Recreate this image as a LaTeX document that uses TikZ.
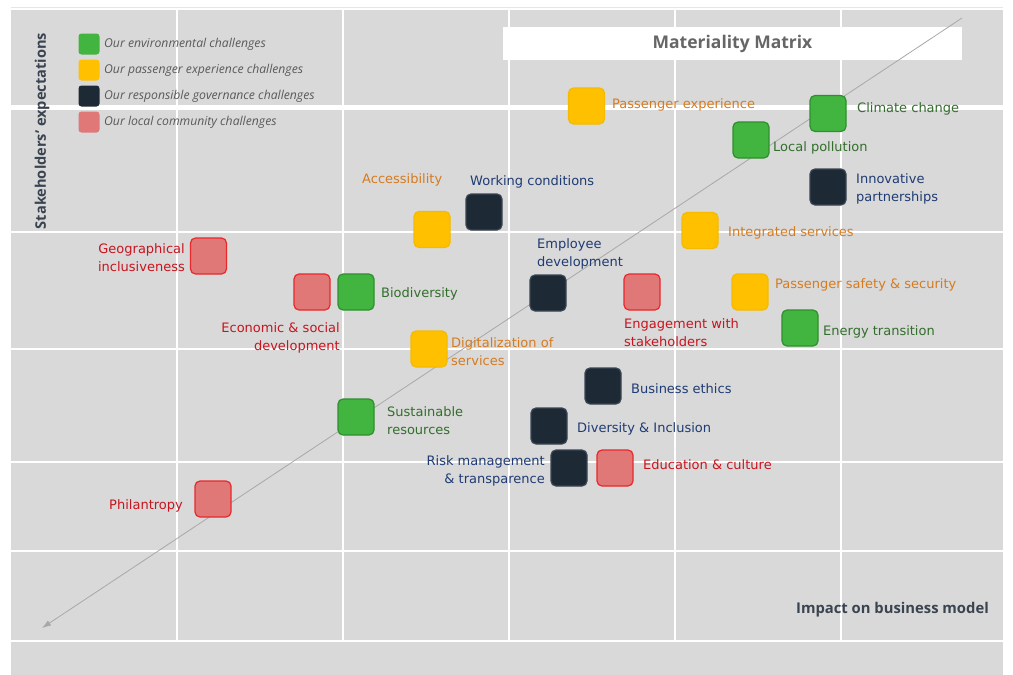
\documentclass[tikz,border=0pt]{standalone}
\usepackage{fontspec}
\setmainfont{PT Sans}
\newfontfamily\labfont{DejaVu Sans}
\newfontfamily\osans{Open Sans}
\usetikzlibrary{arrows.meta}
\definecolor{bg}{HTML}{D9D9D9}
\definecolor{envfill}{HTML}{42B540}
\definecolor{envdraw}{HTML}{2F8F2F}
\definecolor{paxfill}{HTML}{FFC000}
\definecolor{paxdraw}{HTML}{F5BA00}
\definecolor{govfill}{HTML}{1E2936}
\definecolor{govdraw}{HTML}{3B4654}
\definecolor{locfill}{HTML}{E07878}
\definecolor{locdraw}{HTML}{E8282A}
\definecolor{envtext}{HTML}{336E2C}
\definecolor{paxtext}{HTML}{D67B1E}
\definecolor{govtext}{HTML}{1F3B73}
\definecolor{loctext}{HTML}{C8141E}
\definecolor{legtext}{HTML}{5A5A5A}
\definecolor{axtext}{HTML}{3A4450}
\definecolor{diag}{HTML}{A8A8A8}
\begin{document}
\begin{tikzpicture}[x=1pt,y=-1pt,
  sq/.style={rounded corners=5pt, minimum size=36pt, inner sep=0pt, line width=1.2pt, draw},
  sqenv/.style={sq, fill=envfill, draw=envdraw},
  sqpax/.style={sq, fill=paxfill, draw=paxdraw},
  sqgov/.style={sq, fill=govfill, draw=govdraw},
  sqloc/.style={sq, fill=locfill, draw=locdraw},
  legsq/.style={rounded corners=3pt, minimum size=21pt, inner sep=0pt, draw=none},
  legtx/.style={anchor=west, inner sep=0pt, text=legtext, font=\osans\fontsize{12.2}{14}\selectfont\itshape},
  lab/.style={inner sep=0pt, yshift=-1.5pt, font=\labfont\fontsize{13}{18}\selectfont},
  labenv/.style={lab, text=envtext},
  labpax/.style={lab, text=paxtext},
  labgov/.style={lab, text=govtext},
  labloc/.style={lab, text=loctext},
  gridline/.style={draw=white, line width=2pt}
]
\useasboundingbox (0,0) rectangle (1013,675);
\fill[white] (0,0) rectangle (1013,675);
\draw[draw=black!10, line width=0.8pt] (11,7) -- (1003,7);
\fill[bg] (11,10) rectangle (1003,675);
% grid
\foreach \gx in {177,343,509,675,841} { \draw[gridline] (\gx,10) -- (\gx,641); }
\foreach \gy in {231.5,349,462,551,641} { \draw[gridline] (11,\gy) -- (1003,\gy); }
\draw[draw=white, line width=4.5pt] (11,107.5) -- (1003,107.5);
% title
\node[fill=white, minimum width=459pt, minimum height=33pt, inner sep=0pt] (titlebox) at (732.5,43.5) {};
\node[inner sep=0pt, text=black!60, font=\osans\fontsize{17.5}{20}\selectfont\bfseries] (title) at (titlebox) {Materiality Matrix};
% diagonal
\coordinate (dtop) at (962,18);
\coordinate (dbot) at (42,628);
\draw[draw=diag, line width=0.8pt, -{Latex[length=9pt,width=6pt]}] (dtop) -- (dbot);
% axis labels
\node[rotate=90, inner sep=0pt, text=axtext, font=\osans\fontsize{14.6}{17}\selectfont\bfseries] (ylab) at (42,131) {Stakeholders’ expectations};
\node[anchor=east, inner sep=0pt, text=axtext, font=\osans\fontsize{14.8}{17}\selectfont\bfseries] (xlab) at (989,610) {Impact on business model};
% legend
\node[legsq, fill=envfill] (l1) at (89,44) {};
\node[legsq, fill=paxfill] (l2) at (89,70) {};
\node[legsq, fill=govfill] (l3) at (89,96) {};
\node[legsq, fill=locfill] (l4) at (89,122) {};
\node[legtx] (lt1) at (104,44) {Our environmental challenges};
\node[legtx] (lt2) at (104,70) {Our passenger experience challenges};
\node[legtx] (lt3) at (104,96) {Our responsible governance challenges};
\node[legtx] (lt4) at (104,122) {Our local community challenges};
% squares
\node[sqpax] (pe) at (586.5,106) {};
\node[sqenv] (cc) at (828,113.5) {};
\node[sqenv] (lp) at (751,140) {};
\node[sqgov] (ip) at (828,187) {};
\node[sqpax] (is) at (700,230.5) {};
\node[sqpax] (pss) at (750,292) {};
\node[sqenv] (et) at (800,328) {};
\node[sqpax] (acc) at (432,229.5) {};
\node[sqgov] (wc) at (484,212) {};
\node[sqloc] (gi) at (208.5,256) {};
\node[sqloc] (esd) at (312,292) {};
\node[sqenv] (bio) at (356,292) {};
\node[sqgov] (ed) at (548,293) {};
\node[sqloc] (ews) at (642,292) {};
\node[sqpax] (dos) at (429,349) {};
\node[sqgov] (be) at (603,386) {};
\node[sqgov] (di) at (549,426) {};
\node[sqgov] (rmt) at (569,468) {};
\node[sqloc] (ec) at (615,468) {};
\node[sqenv] (sr) at (356,417) {};
\node[sqloc] (ph) at (213,499) {};
% labels
\node[labpax, anchor=west] (tpe) at (612,103) {Passenger experience};
\node[labenv, anchor=west] (tcc) at (857,107) {Climate change};
\node[labenv, anchor=west] (tlp) at (773,146) {Local pollution};
\node[labgov, anchor=west, align=left] (tip) at (856,187) {Innovative\\partnerships};
\node[labpax, anchor=west] (tis) at (728,231) {Integrated services};
\node[labpax, anchor=west] (tpss) at (775,283) {Passenger safety \& security};
\node[labenv, anchor=west] (tet) at (823,330) {Energy transition};
\node[labpax, anchor=west] (tacc) at (362,178) {Accessibility};
\node[labgov, anchor=west] (twc) at (470,180) {Working conditions};
\node[labloc, anchor=east, align=right] (tgi) at (185,256) {Geographical\\inclusiveness};
\node[labloc, anchor=east, align=right] (tesd) at (340,336) {Economic \& social\\development};
\node[labenv, anchor=west] (tbio) at (381,292) {Biodiversity};
\node[labgov, anchor=west, align=left] (ted) at (537,252) {Employee\\development};
\node[labloc, anchor=west, align=left] (tews) at (624,331) {Engagement with\\stakeholders};
\node[labpax, anchor=west, align=left] (tdos) at (451,350) {Digitalization of\\services};
\node[labgov, anchor=west] (tbe) at (631,387) {Business ethics};
\node[labgov, anchor=west] (tdi) at (577,427) {Diversity \& Inclusion};
\node[labgov, anchor=east, align=right] (trmt) at (545,469) {Risk management\\\& transparence};
\node[labloc, anchor=west] (tec) at (643,463) {Education \& culture};
\node[labenv, anchor=west, align=left] (tsr) at (387,419) {Sustainable\\resources};
\node[labloc, anchor=east] (tph) at (183,504) {Philantropy};
\end{tikzpicture}
\end{document}
